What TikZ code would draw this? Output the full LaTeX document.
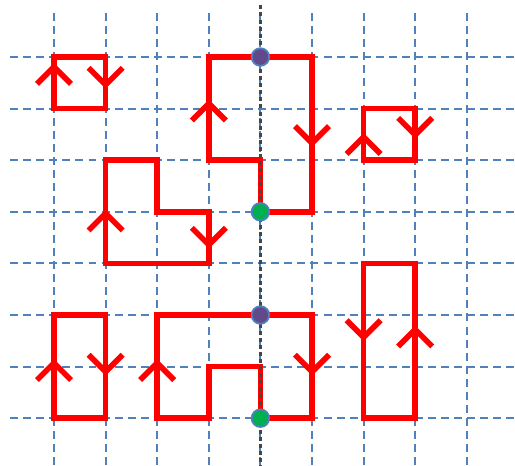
\documentclass[tikz,border=0pt]{standalone}
\usepackage{tikz}
\usetikzlibrary{calc}
\definecolor{cGrid}{RGB}{79,129,189}
\definecolor{cAxis}{RGB}{70,70,70}
\definecolor{cPurple}{RGB}{96,74,140}
\definecolor{cGreenDot}{RGB}{0,176,80}
\tikzset{
	gridline/.style={cGrid, line width=1.1pt, dash pattern=on 4.4pt off 2.8pt},
	axisline/.style={cAxis, line width=2pt, dash pattern=on 2.2pt off 1.7pt},
	loopline/.style={red, line width=3.1pt},
	dot/.style={circle, draw=cGrid, line width=1pt, minimum size=0.34cm, inner sep=0pt},
	% chevrons marking the running direction
	uparr/.pic={\draw[loopline] (-0.33,-0.33) -- (0,0) -- (0.33,-0.33);},
	downarr/.pic={\draw[loopline] (-0.33,0.33) -- (0,0) -- (0.33,0.33);},
}

\begin{document}
\begin{tikzpicture}
	\useasboundingbox (-1.047,-7.926) rectangle (8.934,1.105);
	% dashed grid
	\foreach \x in {0,...,8} \draw[gridline] (\x,0.85) -- (\x,-7.926);
	\foreach \y in {0,...,7} \draw[gridline] (-0.85,-\y) -- (8.934,-\y);
	% closed loops
	\draw[loopline] (0,0) rectangle (1,-1);
	\draw[loopline] (6,-1) rectangle (7,-2);
	\draw[loopline] (1,-2) -- (2,-2) -- (2,-3) -- (3,-3) -- (3,-4) -- (1,-4) -- cycle;
	\draw[loopline] (0,-5) rectangle (1,-7);
	\draw[loopline] (6,-4) rectangle (7,-7);
	\draw[loopline] (4,0) -- (3,0) -- (3,-2) -- (4,-2) -- (4,-3) -- (5,-3) -- (5,0) -- cycle;
	\draw[loopline] (4,-5) -- (2,-5) -- (2,-7) -- (3,-7) -- (3,-6) -- (4,-6) -- (4,-7) -- (5,-7) -- (5,-5) -- cycle;
	\pic at (0,-0.19) {uparr};
	\pic at (1,-0.54) {downarr};
	\pic at (3,-0.9) {uparr};
	\pic at (5,-1.67) {downarr};
	\pic at (6,-1.55) {uparr};
	\pic at (7,-1.51) {downarr};
	\pic at (1,-3.03) {uparr};
	\pic at (3,-3.64) {downarr};
	\pic at (0,-5.93) {uparr};
	\pic at (1,-6.1) {downarr};
	\pic at (2,-5.93) {uparr};
	\pic at (5,-6.1) {downarr};
	\pic at (6,-5.43) {downarr};
	\pic at (7,-5.28) {uparr};
	% middle axis with the end points
	\draw[axisline] (4,1.0) -- (4,-7.926);
	\node[dot, fill=cPurple] (top1) at (4,0) {};
	\node[dot, fill=cGreenDot] (bot1) at (4,-3) {};
	\node[dot, fill=cPurple] (top2) at (4,-5) {};
	\node[dot, fill=cGreenDot] (bot2) at (4,-7) {};
\end{tikzpicture}
\end{document}
